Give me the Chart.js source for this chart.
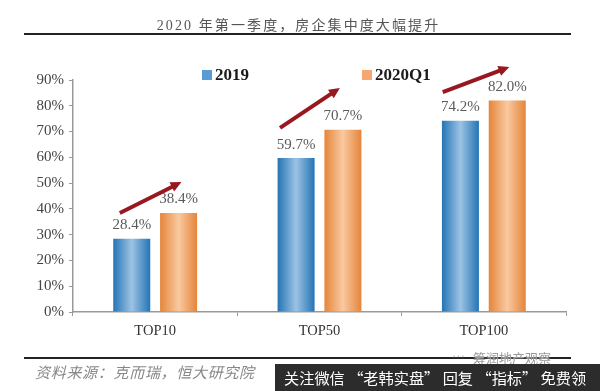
<!DOCTYPE html>
<html>
<head>
<meta charset="utf-8">
<script src="https://cdn.jsdelivr.net/npm/chart.js@4"></script>
<style>
  html, body { margin: 0; padding: 0; background: #fff; }
  #wrap { position: relative; width: 600px; height: 391px; overflow: hidden; }
  #wrap canvas { position: absolute; left: 0; top: 0; }
  .txt { position: absolute; white-space: nowrap; }
  #title { left: 0; width: 597px; top: 14px; text-align: center; font: 14px "Liberation Serif", "Noto Sans CJK SC"; color: #555; letter-spacing: 2.1px; }
  .rule { position: absolute; left: 24px; width: 547px; height: 2px; background: #222; }
  #source { left: 35px; top: 361px; font: italic 15px "Noto Sans CJK SC"; color: #888; letter-spacing: 0.7px; }
  #mark { left: 473px; top: 348px; font: 13px "Noto Sans CJK SC"; color: #999; text-shadow: 0 0 2px #fff; }
  #dots { left: 452px; top: 348px; font: 13px "Liberation Serif"; color: #bbb; text-shadow: 0 0 2px #fff; }
  #banner { position: absolute; left: 275px; top: 364px; width: 325px; height: 27px; background: #2c2c2c; color: #fff;
            font: 15.2px/27px "Noto Sans CJK SC"; white-space: nowrap; overflow: hidden; text-indent: 9px; }
  .legend { position: absolute; top: 65px; font: bold 17px/19px "Liberation Serif"; color: #1a1a1a; white-space: nowrap; }
  .legend i { position: absolute; top: 5px; width: 10px; height: 10px; }
</style>
</head>
<body>
<div id="wrap">
  <canvas id="chart" width="600" height="391"></canvas>
  <div class="txt" id="title">2020 年第一季度，房企集中度大幅提升</div>
  <div class="rule" style="top:33px"></div>
  <div class="rule" style="top:357px"></div>
  <div class="txt" id="source">资料来源：克而瑞，恒大研究院</div>
  <div class="txt" id="dots">···</div>
  <div class="txt" id="mark">筹润地产观察</div>
  <div id="banner">关注微信 “老韩实盘” 回复 “指标” 免费领</div>
</div>
<script>
const categories = ['TOP10', 'TOP50', 'TOP100'];
const values2019 = [28.4, 59.7, 74.2];
const values2020 = [38.4, 70.7, 82.0];
const yTicks = [0, 10, 20, 30, 40, 50, 60, 70, 80, 90];
const seriesNames = ['2019', '2020Q1'];
const legendX = [202, 362];
const legendColors = ['#5b9bd5', '#f4a870'];
// trend arrows in axis units: [x0, y0, x1, y1]
const arrows = [
  [-0.215, 38.4, 0.16, 50.4],
  [0.76, 71.4, 1.124, 86.9],
  [1.75, 85.3, 2.155, 95]
];
const serif = 'Liberation Serif';

// legend sits above the plot with the swatch tight to the text, so it is plain html
seriesNames.forEach((name, i) => {
  const d = document.createElement('div');
  d.className = 'legend';
  d.style.left = legendX[i] + 'px';
  d.style.paddingLeft = '13px';
  d.innerHTML = '<i style="left:0;background:' + legendColors[i] + '"></i>' + name;
  document.getElementById('wrap').appendChild(d);
});

// bars have a left-right shine, so build a gradient per bar
function barGradient(ctx, el, edge, mid) {
  const g = ctx.createLinearGradient(el.x - el.width / 2, 0, el.x + el.width / 2, 0);
  g.addColorStop(0, edge);
  g.addColorStop(0.5, mid);
  g.addColorStop(1, edge);
  return g;
}

const shinePlugin = {
  id: 'shine',
  beforeDatasetsDraw(chart) {
    chart.data.datasets.forEach((ds, i) => {
      chart.getDatasetMeta(i).data.forEach(el => {
        const p = el.getProps(['x', 'width'], true);
        el.options = Object.assign({}, el.options, {
          backgroundColor: barGradient(chart.ctx, p, ds.edgeColor, ds.midColor)
        });
      });
    });
  }
};

const valueLabels = {
  id: 'valueLabels',
  afterDatasetsDraw(chart) {
    const ctx = chart.ctx;
    ctx.save();
    ctx.font = '15px "' + serif + '"';
    ctx.fillStyle = '#5a5a5a';
    ctx.textAlign = 'center';
    ctx.textBaseline = 'bottom';
    chart.data.datasets.forEach((ds, i) => {
      chart.getDatasetMeta(i).data.forEach((el, j) => {
        ctx.fillText(ds.data[j].toFixed(1) + '%', el.x, el.y - 6);
      });
    });
    ctx.restore();
  }
};

const arrowPlugin = {
  id: 'trendArrows',
  afterDraw(chart) {
    const ctx = chart.ctx, xs = chart.scales.x, ys = chart.scales.y;
    ctx.save();
    ctx.strokeStyle = '#981820';
    ctx.fillStyle = '#981820';
    ctx.lineWidth = 4;
    arrows.forEach(a => {
      const x0 = xs.getPixelForValue(a[0]), y0 = ys.getPixelForValue(a[1]);
      const x1 = xs.getPixelForValue(a[2]), y1 = ys.getPixelForValue(a[3]);
      const ang = Math.atan2(y1 - y0, x1 - x0);
      ctx.beginPath();
      ctx.moveTo(x0, y0);
      ctx.lineTo(x1 - 8 * Math.cos(ang), y1 - 8 * Math.sin(ang));
      ctx.stroke();
      ctx.beginPath();
      ctx.moveTo(x1, y1);
      ctx.lineTo(x1 - 12 * Math.cos(ang - 0.45), y1 - 12 * Math.sin(ang - 0.45));
      ctx.lineTo(x1 - 12 * Math.cos(ang + 0.45), y1 - 12 * Math.sin(ang + 0.45));
      ctx.closePath();
      ctx.fill();
    });
    ctx.restore();
  }
};

new Chart(document.getElementById('chart'), {
  type: 'bar',
  data: {
    labels: categories,
    datasets: [
      { label: seriesNames[0], data: values2019, backgroundColor: legendColors[0], edgeColor: '#2474b5', midColor: '#9cc3e4' },
      { label: seriesNames[1], data: values2020, backgroundColor: legendColors[1], edgeColor: '#e5853a', midColor: '#f9c9a0' }
    ]
  },
  plugins: [shinePlugin, valueLabels, arrowPlugin],
  options: {
    responsive: false,
    animation: false,
    categoryPercentage: 0.57,
    barPercentage: 0.79,
    layout: { padding: { top: 80, right: 34, left: 0, bottom: 0 } },
    plugins: {
      title: { display: false },
      tooltip: { enabled: false },
      legend: { display: false }
    },
    scales: {
      x: {
        afterFit(scale) { scale.height = 79; },
        border: { color: '#999', width: 1.5 },
        grid: { drawOnChartArea: false, tickLength: 4, color: '#999' },
        ticks: { color: '#333', padding: 6, maxRotation: 0, font: { family: serif, size: 14.5 } }
      },
      y: {
        min: 0,
        max: 90,
        afterFit(scale) { scale.width = 73; },
        afterBuildTicks(scale) { scale.ticks = yTicks.map(v => ({ value: v })); },
        border: { color: '#999', width: 1.5 },
        grid: { drawOnChartArea: false, tickLength: 4, color: '#999' },
        ticks: { color: '#444', padding: 5, callback: v => v + '%', font: { family: serif, size: 15 } }
      }
    }
  }
});
</script>
</body>
</html>
